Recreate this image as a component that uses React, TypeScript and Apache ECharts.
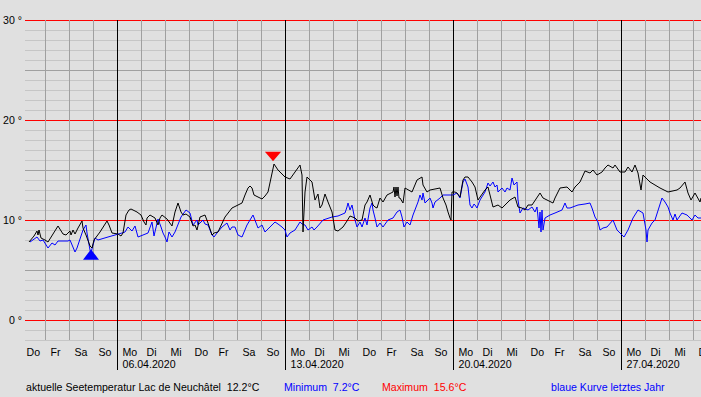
import React, { useEffect, useRef } from "react";
import * as echarts from "echarts";

// Time axis: hours since Thursday 02.04.2020 00:00
const X_MIN = 4;
const X_MAX = 680;
const Y_MIN = -2;
const Y_MAX = 30;

const DAY_NAMES = ["Do", "Fr", "Sa", "So", "Mo", "Di", "Mi"];
const WEEK_DATES = ["06.04.2020", "13.04.2020", "20.04.2020", "27.04.2020"];
const DAYS = Array.from({ length: 29 }, (_, i) => i);

// Current year (black)
const curHours = [
  8, 13, 16, 17, 18, 20, 24, 27, 32, 37, 42, 45, 49, 50, 52, 54, 57, 61, 62, 65, 69, 71, 73, 79, 86, 88, 91, 97,
  100, 102, 105, 108, 110, 116, 120, 123, 125, 126, 129, 134, 137, 139, 141, 146, 151, 154, 157, 160, 162, 165,
  169, 172, 174, 176, 179, 184, 187, 191, 193, 197, 204, 211, 221, 224, 227, 229, 231, 233, 237, 241, 244, 247,
  250, 253, 257, 264, 269, 274, 279, 281, 282, 284, 286, 291, 294, 297, 299, 301, 304, 307, 311, 314, 317, 322,
  326, 329, 334, 337, 341, 344, 346, 349, 352, 354, 356, 359, 362, 366, 372, 373, 374, 375, 376, 377, 378, 379,
  382, 384, 391, 396, 401, 402, 406, 409, 419, 422, 425, 427, 429, 430, 431, 434, 436, 439, 442, 444, 447, 451,
  454, 457, 464, 467, 472, 477, 481, 486, 489, 494, 497, 501, 504, 507, 511, 519, 522, 532, 534, 539, 546, 551,
  554, 559, 564, 569, 572, 576, 581, 584, 587, 592, 594, 599, 604, 607, 611, 614, 617, 620, 622, 629, 634, 639,
  647, 656, 659, 664, 667, 670, 674, 679, 680,
];
const curTemps = [
  7.8, 8.4, 8.9, 8.5, 9.0, 8.2, 8.0, 7.8, 8.6, 9.4, 8.6, 8.5, 8.9, 8.5, 9.0, 8.6, 9.2, 9.9, 9.2, 8.5, 7.4, 7.2,
  8.0, 8.8, 9.9, 9.5, 8.7, 8.6, 8.4, 8.7, 10.5, 11.0, 11.1, 10.8, 10.5, 9.8, 9.5, 10.2, 10.5, 10.2, 9.5, 10.2,
  10.5, 10.1, 9.4, 10.8, 11.7, 10.8, 10.5, 10.6, 10.3, 9.4, 9.5, 9.0, 10.3, 10.5, 9.7, 8.5, 8.7, 8.8, 10.3, 11.2,
  11.7, 12.5, 13.2, 13.4, 13.2, 12.5, 12.3, 12.1, 12.4, 12.8, 14.2, 15.6, 15.0, 14.3, 14.1, 14.8, 15.5, 14.5, 8.8,
  12.8, 14.3, 13.8, 12.0, 12.6, 11.2, 11.5, 12.6, 11.8, 10.8, 9.0, 8.9, 9.3, 9.9, 10.4, 10.2, 9.9, 10.0, 11.5,
  11.8, 12.5, 11.5, 11.3, 11.2, 12.2, 11.8, 12.5, 12.8, 13.3, 12.3, 13.3, 12.4, 13.3, 12.2, 12.2, 11.7, 13.2,
  12.8, 14.0, 14.3, 13.5, 12.8, 13.0, 13.2, 12.2, 11.5, 10.8, 10.2, 10.0, 12.8, 12.8, 12.7, 12.3, 14.0, 14.3,
  14.3, 13.8, 13.3, 12.0, 13.0, 13.3, 11.3, 11.5, 11.2, 11.7, 12.0, 12.3, 11.3, 11.2, 11.0, 11.5, 11.5, 12.7,
  12.2, 11.7, 12.2, 13.2, 13.3, 12.8, 13.3, 13.8, 14.9, 14.7, 15.0, 14.5, 14.8, 15.2, 15.5, 15.2, 15.5, 14.8,
  14.8, 15.3, 14.8, 15.5, 14.7, 13.0, 14.5, 13.8, 13.5, 13.2, 12.8, 13.0, 13.2, 13.8, 12.7, 12.0, 12.7, 11.8,
  12.2,
];

// Last year (blue)
const prevHours = [
  9, 16, 19, 22, 27, 31, 34, 37, 47, 49, 54, 56, 62, 65, 66, 69, 70, 72, 74, 77, 87, 94, 101, 104, 107, 111,
  114, 117, 127, 131, 133, 137, 140, 142, 144, 146, 148, 151, 154, 160, 165, 169, 172, 176, 177, 182, 184, 187,
  191, 193, 196, 201, 206, 209, 211, 214, 217, 221, 226, 229, 232, 237, 241, 244, 249, 254, 257, 261, 264, 266,
  269, 274, 279, 281, 284, 287, 291, 293, 296, 302, 311, 317, 324, 326, 327, 329, 331, 334, 336, 339, 341, 344,
  346, 349, 351, 352, 354, 356, 359, 362, 367, 372, 376, 379, 381, 383, 386, 389, 392, 397, 399, 401, 402, 404,
  409, 411, 412, 414, 419, 422, 432, 436, 439, 442, 444, 447, 449, 451, 453, 454, 456, 459, 464, 467, 469, 472,
  474, 476, 477, 481, 484, 486, 489, 491, 493, 496, 497, 499, 502, 507, 511, 514, 516, 517, 518, 519, 520, 521,
  522, 524, 529, 534, 541, 544, 546, 549, 557, 564, 569, 571, 574, 577, 579, 582, 586, 592, 596, 601, 603, 607,
  612, 617, 622, 625, 626, 627, 631, 634, 641, 644, 647, 649, 652, 654, 656, 661, 666, 671, 674, 677, 680,
];
const prevTemps = [
  7.8, 8.3, 7.9, 8.0, 7.2, 7.7, 7.5, 7.9, 7.9, 8.0, 6.8, 7.2, 9.0, 9.5, 8.7, 7.0, 6.7, 7.5, 8.2, 8.0, 8.3, 8.5,
  8.7, 8.8, 9.3, 8.9, 9.4, 8.3, 8.7, 9.8, 8.4, 10.1, 9.3, 8.7, 8.3, 7.8, 8.8, 8.3, 8.8, 10.3, 11.0, 10.7, 9.5,
  10.0, 9.5, 10.0, 9.6, 9.5, 8.5, 8.3, 8.7, 9.3, 9.7, 9.0, 9.3, 9.3, 8.5, 8.3, 9.5, 10.0, 10.5, 9.2, 9.5, 8.8,
  9.3, 9.8, 9.6, 9.3, 9.0, 8.3, 8.7, 9.0, 9.8, 9.6, 9.5, 9.0, 9.3, 9.0, 9.3, 10.0, 10.3, 10.4, 10.7, 11.3, 11.7,
  11.0, 11.5, 10.0, 9.3, 9.8, 9.3, 10.2, 9.5, 11.2, 11.7, 11.0, 10.2, 9.3, 9.7, 9.3, 10.0, 10.2, 10.8, 11.0,
  10.3, 9.3, 9.8, 9.5, 10.5, 11.8, 12.5, 12.0, 12.7, 11.7, 12.2, 11.7, 11.2, 11.8, 12.2, 12.5, 12.5, 12.7, 12.2,
  13.8, 14.1, 13.3, 11.5, 11.2, 11.6, 11.5, 11.2, 12.0, 12.8, 13.7, 13.4, 13.8, 13.3, 13.5, 12.8, 13.2, 12.8,
  13.2, 13.0, 14.2, 13.5, 13.8, 12.0, 10.7, 11.2, 11.0, 11.3, 10.8, 11.3, 10.3, 9.2, 10.8, 8.8, 11.0, 9.0, 10.2,
  10.5, 10.7, 11.0, 11.7, 11.2, 11.2, 11.5, 11.6, 11.7, 11.2, 10.3, 9.8, 9.0, 9.2, 9.3, 10.0, 9.0, 8.5, 8.3, 9.0,
  10.2, 11.0, 10.7, 9.0, 7.8, 9.0, 9.7, 10.0, 12.2, 11.8, 11.3, 10.7, 10.0, 10.6, 10.0, 10.7, 10.5, 10.0, 10.5,
  10.2, 10.2,
];

const FONT = '"Liberation Sans", Arial, sans-serif';
const FS = 10.6;
const BG = "#e0e0e0";
const LIGHT = "#c6c6c6";
const DARK = "#a0a0a0";

export default function App() {
  const ref = useRef<HTMLDivElement>(null);

  useEffect(() => {
    document.body.style.margin = "0";
    const chart = echarts.init(ref.current!, undefined, { renderer: "svg" });
    const cur = curHours.map((h, i) => [h, curTemps[i]]);
    const prev = prevHours.map((h, i) => [h, prevTemps[i]]);

    const option: any = {
      animation: false,
      backgroundColor: BG,
      grid: { left: 25, right: 0, top: 20, bottom: 57, containLabel: false },
      xAxis: {
        type: "value",
        min: X_MIN,
        max: X_MAX,
        show: false,
      },
      yAxis: {
        type: "value",
        min: Y_MIN,
        max: Y_MAX,
        interval: 1,
        axisLine: { show: false },
        axisTick: { show: false },
        axisLabel: {
          margin: 3,
          color: "#000",
          fontFamily: FONT,
          fontSize: FS,
          formatter: (v: number) => (v >= 0 && v % 10 === 0 ? `${v} °` : ""),
        },
        splitLine: {
          show: true,
          lineStyle: {
            width: 1,
            color: [LIGHT, LIGHT, "#ff0000", LIGHT, LIGHT, LIGHT, LIGHT, DARK, LIGHT, LIGHT],
          },
        },
      },
      series: [
        {
          type: "custom",
          clip: false,
          silent: true,
          z: 1,
          data: DAYS.map((d) => [d * 24, 0]),
          renderItem: (_params: any, api: any) => {
            const h = api.value(0);
            const d = Math.round(h / 24);
            const top = api.coord([h, Y_MAX]);
            const bot = api.coord([h, Y_MIN]);
            const x = Math.round(top[0]) + 0.5;
            const isWeek = (d - 4) % 7 === 0;
            const children: any[] = [];
            if (h > X_MIN && h < X_MAX) {
              children.push({
                type: "line",
                shape: { x1: x, y1: top[1], x2: x, y2: isWeek ? bot[1] + 30 : bot[1] },
                style: { stroke: isWeek ? "#000" : DARK, lineWidth: 1 },
              });
            }
            children.push({
              type: "text",
              style: {
                text: DAY_NAMES[d % 7],
                x: x + 5,
                y: bot[1] + 12,
                fill: "#000",
                font: `${FS}px ${FONT}`,
                verticalAlign: "middle",
                textVerticalAlign: "middle",
              },
            });
            if (isWeek) {
              const wi = (d - 4) / 7;
              children.push({
                type: "text",
                style: {
                  text: WEEK_DATES[wi],
                  x: x + 5,
                  y: bot[1] + 24,
                  fill: "#000",
                  font: `${FS}px ${FONT}`,
                  verticalAlign: "middle",
                  textVerticalAlign: "middle",
                },
              });
            }
            return { type: "group", children };
          },
        },
        {
          name: "letztes Jahr",
          type: "line",
          data: prev,
          showSymbol: false,
          z: 3,
          lineStyle: { color: "#0000ff", width: 1 },
          itemStyle: { color: "#0000ff" },
        },
        {
          name: "aktuell",
          type: "line",
          data: cur,
          showSymbol: false,
          z: 4,
          lineStyle: { color: "#000000", width: 1 },
          itemStyle: { color: "#000000" },
          markPoint: {
            silent: true,
            label: { show: false },
            data: [
              {
                type: "min",
                symbol: "triangle",
                symbolSize: [12, 8],
                symbolOffset: [-1, 7],
                itemStyle: { color: "#0000ff", borderColor: "#0000ff" },
              },
              {
                type: "max",
                symbol: "triangle",
                symbolRotate: 180,
                symbolSize: [12, 7],
                symbolOffset: [-1, -8],
                itemStyle: { color: "#ff0000", borderColor: "#ff0000" },
              },
            ],
          },
        },
      ],
      graphic: [
        {
          type: "text",
          x: 26,
          y: 387,
          style: {
            text: "aktuelle Seetemperatur Lac de Neuchâtel  12.2°C",
            fill: "#000",
            font: `${FS}px ${FONT}`,
            verticalAlign: "middle",
            textVerticalAlign: "middle",
          },
        },
        {
          type: "text",
          x: 284,
          y: 387,
          style: {
            text: "Minimum  7.2°C",
            fill: "#0000ff",
            font: `${FS}px ${FONT}`,
            verticalAlign: "middle",
            textVerticalAlign: "middle",
          },
        },
        {
          type: "text",
          x: 382,
          y: 387,
          style: {
            text: "Maximum  15.6°C",
            fill: "#ff0000",
            font: `${FS}px ${FONT}`,
            verticalAlign: "middle",
            textVerticalAlign: "middle",
          },
        },
        {
          type: "text",
          x: 551,
          y: 387,
          style: {
            text: "blaue Kurve letztes Jahr",
            fill: "#0000ff",
            font: `${FS}px ${FONT}`,
            verticalAlign: "middle",
            textVerticalAlign: "middle",
          },
        },
      ],
    };

    chart.setOption(option);
    return () => chart.dispose();
  }, []);

  return (
    <div
      ref={ref}
      style={{ position: "absolute", left: 0, top: 0, width: 701, height: 397 }}
    />
  );
}
